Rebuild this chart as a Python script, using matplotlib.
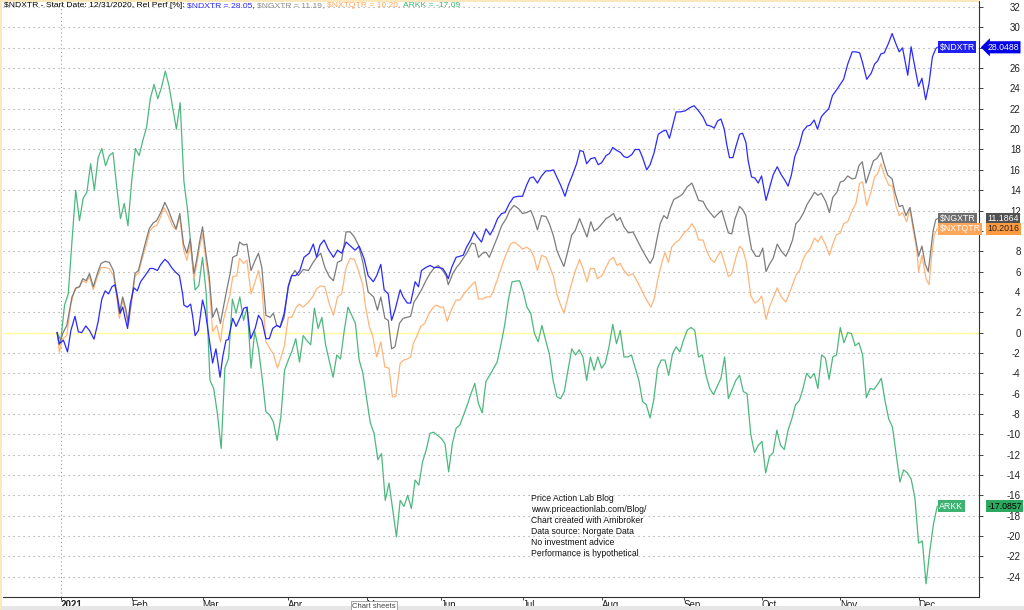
import matplotlib.pyplot as plt
from matplotlib.patches import Rectangle

plt.rcParams['font.family'] = ['Liberation Sans', 'DejaVu Sans']

# relative performance [%] vs 12/31/2020, x = trading session index (0 = 12/31/2020)
NDXTR = [(0, 0), (0.6, -1.1), (1.7, -0.75), (2.8, -1.9), (3.7, 0.2), (4.8, 1.6), (5.7, 0.07), (6.6, 0), (7.7, 0.65),
         (8.7, 0.2), (9.9, -0.65), (11, 1.05), (12, 3.3), (12.9, 4.1), (13.8, 3.8), (14.7, 4.5), (15.5, 4.7),
         (16.2, 3.5), (16.9, 1.9), (17.6, 2.5), (18.2, 1.5), (18.9, 0.4), (19.6, 2.8), (20.6, 4.4), (21.5, 4.1),
         (22.4, 5.0), (23.6, 5.6), (24.9, 6.3), (25.8, 6.3), (26.9, 6.1), (27.8, 6.7), (28.9, 7.2), (29.8, 6.9),
         (30.7, 6.4), (31.6, 6.0), (32.8, 5.6), (33.7, 3.7), (34.0, 2.7), (34.9, 2.5), (35.8, 2.8), (36.4, 1.5),
         (37, -0.3), (37.9, 0.2), (39, 3.2), (39.7, 2.2), (40.6, -0.1), (41.7, -3.0), (42.6, -1.6), (43.7, -4.4),
         (44.4, -2.4), (45.3, -0.75), (45.9, -0.7), (47.1, 1.4), (48, 0.6), (49.1, 1.5), (50.1, 2.4), (50.9, 2.5),
         (51.9, -0.6), (53.1, 0.4), (54, 1.7), (54.9, 1.2), (56, -0.6), (56.9, -0.6), (57.8, 0.4), (58.9, 0.7),
         (59.8, 0.55), (60.9, 1.9), (62, 4.5), (62.9, 5.6), (64, 5.6), (65.1, 6.1), (66.2, 7.4), (67.6, 7.8),
         (68.7, 8.7), (69.6, 7.4), (70.5, 8.6), (71.6, 9.1), (72.7, 8.2), (74.1, 7.4), (75.2, 8.1), (76.3, 7.8),
         (77.5, 8.9), (78.7, 8.5), (79.9, 8.1), (81, 8.5), (82.3, 7.3), (83.4, 5.6), (84.8, 5.0), (85.7, 5.6),
         (86.8, 6.7), (87.7, 4.2), (88.8, 3.8), (89.7, 1.2), (90.6, 2.2), (92, 4.2), (92.8, 3.5), (93.9, 2.9),
         (94.8, 2.9), (96, 5.0), (96.9, 4.5), (97.7, 6.1), (98.9, 6.4), (100, 6.6), (101, 6.4), (102.2, 6.4),
         (103.4, 6.3), (104.3, 5.8), (104.9, 5.3), (105.8, 6.4), (107, 7.4), (108, 7.5), (108.9, 7.6), (109.8, 8.4),
         (110.9, 9.1), (111.8, 9.9), (112.7, 9.4), (113.8, 8.9), (115, 10.2), (116.1, 9.6), (117, 10.2),
         (118.1, 11.2), (119.2, 11.7), (120.1, 11.8), (121.3, 12.7), (122.4, 13.3), (123.7, 13.4), (124.8, 13.4),
         (125.9, 14.5), (126.8, 15.2), (127.7, 15.3), (128.8, 14.7), (129.9, 15.4), (131.1, 15.9), (132.2, 15.9),
         (133.1, 16.0), (134.1, 15.2), (135, 14.5), (136.2, 13.4), (137.1, 14.5), (138.2, 15.5), (139.3, 16.6),
         (140.2, 17.9), (141.1, 17.8), (142, 16.6), (143.1, 17.1), (144.2, 17.2), (145.1, 16.5), (146, 16.7),
         (147.2, 17.4), (148.1, 17.6), (149, 18.2), (150.1, 17.9), (151.1, 17.7), (152, 17.3), (152.9, 17.2),
         (154.1, 17.5), (155, 18.0), (156.1, 18.0), (157, 17.2), (158.1, 16.0), (159, 16.5), (160.1, 17.7),
         (161.2, 19.5), (162.4, 19.8), (163.3, 19.9), (164.2, 19.1), (165.1, 20.4), (166, 21.7), (167.2, 21.7),
         (168.4, 21.8), (169.6, 22.1), (170.8, 22.3), (172, 21.8), (173.2, 21.2), (174.2, 20.4), (175.3, 20.3),
         (176.2, 20.1), (177.1, 20.8), (178, 21.0), (178.9, 20.0), (179.6, 18.4), (180.3, 17.2), (181.2, 17.2),
         (182.1, 18.4), (183, 19.5), (183.8, 19.6), (184.7, 18.7), (185.3, 16.9), (186.2, 15.3), (187.1, 15.2),
         (188, 14.7), (188.9, 15.4), (189.4, 14.4), (190.1, 13.0), (191, 14.2), (192, 15.5), (193.1, 16.3),
         (194.2, 15.5), (195.1, 15.0), (196, 14.4), (196.9, 15.5), (197.8, 17.3), (199, 18.4), (200, 19.8),
         (201.1, 20.3), (202, 20.4), (203, 20.9), (203.9, 20.0), (204.9, 21.2), (205.8, 21.6), (206.9, 22.0),
         (207.9, 23.3), (208.9, 23.8), (210, 24.4), (210.9, 24.9), (212, 26.4), (213.2, 27.6), (214.2, 27.6),
         (215.2, 27.5), (216, 26.5), (217.1, 24.9), (218.3, 25.5), (219.2, 26.4), (220, 26.7), (220.9, 27.4),
         (221.8, 27.5), (223, 28.5), (223.9, 29.4), (224.8, 28.5), (225.8, 27.6), (226.7, 28.0), (228.1, 25.3),
         (229, 28.1), (229.8, 26.5), (231, 24.2), (231.9, 25.0), (232.9, 22.9), (233.8, 24.5), (234.7, 27.1),
         (235.6, 27.9), (236, 28.0488)]

NGXTR = [(0, 0), (0.6, -1.2), (1.5, -0.1), (2.6, 0.7), (4, 3.5), (5.1, 4.4), (6, 4.5), (6.9, 5.3), (7.8, 5.1),
         (8.7, 5.8), (9.7, 4.5), (10.8, 5.8), (11.8, 6.8), (12.9, 7.0), (14, 6.9), (15.1, 6.1), (16, 3.8),
         (16.7, 1.9), (17.6, 3.5), (18.5, 2.2), (19.1, 0.9), (19.8, 2.8), (20.9, 5.8), (21.8, 6.1), (22.7, 7.4),
         (23.6, 8.7), (24.7, 10.2), (25.8, 10.8), (26.7, 11.0), (27.8, 11.8), (28.9, 12.8), (29.8, 12.1),
         (30.9, 11.0), (31.9, 10.2), (32.9, 11.7), (33.9, 8.7), (34.8, 7.8), (35.7, 9.2), (36.7, 5.8), (37.4, 7.1),
         (38.2, 8.9), (39, 10.4), (39.9, 7.8), (40.8, 5.5), (41.7, 1.5), (42.8, 2.4), (43.8, 0.9), (44.6, 2.5),
         (45.5, 4.2), (46.4, 5.8), (47.1, 7.4), (48.2, 7.6), (48.9, 8.9), (50, 8.6), (50.9, 8.7), (52, 6.1),
         (53.1, 7.1), (54, 7.8), (54.9, 6.4), (56, 1.7), (57.1, 1.5), (58, 1.9), (58.9, 0.7), (59.8, 0.5),
         (60.9, 1.5), (62, 4.6), (62.9, 5.6), (63.8, 6.1), (64.7, 5.6), (66, 6.2), (67.4, 6.1), (68.5, 6.8),
         (69.6, 7.4), (70.7, 7.8), (71.8, 6.4), (73, 5.5), (74.1, 5.1), (75.2, 6.9), (76.3, 7.1), (77.5, 9.9),
         (78.6, 9.9), (79.7, 9.4), (80.8, 8.6), (82, 6.9), (83.4, 4.0), (84.9, 3.5), (85.9, 2.2), (86.8, 3.5),
         (87.9, 1.4), (88.8, 1.2), (89.7, -1.6), (90.6, -1.4), (91.8, 0.9), (92.8, 1.4), (93.9, 1.5), (94.8, 1.6),
         (95.7, 3.0), (96.6, 3.5), (97.7, 4.2), (98.9, 5.1), (100, 5.8), (101, 6.3), (102.2, 6.6), (103.4, 6.1),
         (104.3, 5.6), (104.9, 4.7), (106.1, 5.8), (107.1, 6.4), (108, 6.8), (109.1, 7.4), (110, 7.9), (111.2, 8.8),
         (112.1, 8.7), (113, 7.4), (114.1, 7.8), (115, 7.9), (115.9, 7.4), (117, 8.4), (118.1, 9.4), (119.2, 10.5),
         (120.4, 11.2), (121.4, 12.0), (122.5, 12.5), (123.7, 12.2), (124.8, 11.7), (125.9, 11.8), (127, 12.0),
         (127.9, 11.2), (128.8, 10.1), (129.9, 11.5), (131.1, 11.4), (132, 10.7), (133.1, 9.5), (134, 8.1),
         (134.9, 7.3), (135.9, 6.5), (136.8, 7.8), (138, 9.6), (138.9, 10.0), (140.1, 11.2), (141, 10.4),
         (142.1, 9.4), (143.1, 10.9), (144, 10.0), (144.9, 10.2), (146.1, 10.7), (147.2, 11.2), (148.1, 11.4),
         (149.2, 11.7), (150.1, 11.0), (151, 11.3), (152, 10.4), (153.2, 9.8), (154.4, 9.9), (155.4, 9.2),
         (156.5, 8.4), (157.7, 7.6), (159, 6.8), (159.9, 7.4), (160.8, 9.1), (161.7, 10.7), (162.7, 11.5),
         (163.6, 11.2), (164.5, 12.3), (165.4, 13.1), (166.5, 13.3), (167.7, 13.6), (168.9, 14.3), (170.2, 14.7),
         (171.1, 13.9), (172, 13.0), (173.2, 12.9), (174.2, 12.2), (175.3, 11.7), (176.2, 11.3), (177.3, 11.7),
         (178.2, 12.0), (179.1, 10.9), (180, 9.8), (180.9, 9.7), (181.8, 11.2), (183, 12.4), (183.8, 12.1),
         (184.7, 11.5), (185.3, 10.1), (186.2, 8.2), (187.4, 7.5), (188.3, 7.5), (189.2, 8.3), (190.1, 6.0),
         (191, 6.7), (192, 7.3), (193.1, 8.7), (194.2, 8.0), (195.4, 7.5), (196.3, 8.2), (197.2, 9.1),
         (198.1, 10.7), (199.1, 11.1), (200.2, 11.8), (201.1, 12.6), (202.3, 13.3), (203.1, 13.8), (204, 13.5),
         (204.9, 13.7), (206.1, 12.9), (207.1, 11.8), (208, 13.3), (209.1, 13.8), (210, 14.8), (210.9, 14.9),
         (212, 15.4), (213.2, 15.1), (214.1, 15.2), (215, 16.4), (215.9, 16.8), (216.9, 14.7), (218, 15.9),
         (218.9, 16.9), (219.8, 17.1), (220.9, 17.7), (221.8, 16.5), (222.7, 15.5), (223.9, 15.1), (224.8, 13.6),
         (225.8, 12.4), (226.7, 12.5), (227.6, 11.5), (228.7, 12.3), (229.6, 10.4), (230.3, 8.9), (231, 7.5),
         (231.9, 8.5), (232.8, 6.7), (233.6, 6.0), (234.3, 8.2), (234.9, 10.0), (235.6, 11.1), (236, 11.1864)]

NXTQTR = [(0, 0), (0.6, -1.9), (1.5, -0.6), (2.6, -0.3), (3.7, 2.8), (4.8, 4.3), (6, 4.5), (6.9, 5.1), (7.8, 4.9),
          (8.7, 5.5), (9.7, 4.2), (10.8, 5.5), (11.8, 6.4), (12.9, 6.4), (14, 6.3), (15.1, 5.6), (16, 3.5),
          (16.7, 1.4), (17.6, 3.2), (18.5, 1.9), (19.1, 0.7), (19.8, 2.5), (20.9, 5.6), (21.8, 5.8), (22.7, 7.1),
          (23.9, 8.6), (24.9, 10.0), (25.8, 10.4), (26.7, 10.5), (27.8, 11.4), (28.6, 12.3), (29.8, 11.5),
          (30.9, 10.5), (31.9, 10.1), (32.9, 11.4), (33.9, 8.2), (34.8, 7.1), (35.7, 8.7), (36.7, 5.3), (37.4, 6.6),
          (38.2, 8.4), (39, 9.7), (39.9, 7.1), (40.8, 4.8), (41.7, 0.1), (42.8, 0.7), (43.8, -0.9), (44.6, 1.2),
          (45.5, 2.5), (46.4, 3.8), (47.1, 5.5), (48.2, 5.6), (48.9, 7.3), (50, 6.8), (50.9, 7.1), (52, 3.8),
          (53.1, 5.0), (54, 6.1), (54.9, 4.5), (56, -0.9), (57.1, -1.6), (58, -2.1), (59.1, -3.5), (59.8, -2.7),
          (60.9, -1.4), (62, 1.5), (62.9, 1.5), (64, 2.4), (64.9, 2.8), (66, 2.5), (67.4, 3.0), (68.5, 3.5),
          (69.6, 4.3), (70.7, 4.6), (71.8, 4.5), (73, 2.8), (74.1, 1.7), (75.2, 3.5), (76.3, 3.8), (77.5, 6.4),
          (78.6, 7.3), (79.7, 7.2), (80.8, 6.1), (82, 4.6), (82.6, 2.8), (83.7, 0.6), (84.6, -0.3), (85.7, -2.4),
          (86.8, -0.9), (87.9, -3.4), (89, -3.5), (89.9, -6.3), (90.8, -6.3), (92, -3.0), (93, -2.7), (93.9, -2.6),
          (94.8, -2.4), (95.5, -1.1), (96.4, -0.4), (97.5, 0.6), (98.6, 0.9), (99.5, 1.7), (100.7, 2.4),
          (101.6, 2.7), (102.7, 2.5), (103.6, 2.5), (104.6, 1.1), (105.8, 2.3), (107, 3.2), (108, 3.2),
          (109.1, 3.8), (110, 4.2), (111.2, 4.7), (112.1, 5.0), (113, 3.3), (114.1, 3.3), (115.2, 3.5),
          (116.2, 3.5), (117.1, 4.2), (118.3, 5.5), (119.5, 6.8), (120.5, 7.8), (121.6, 8.7), (122.5, 8.9),
          (123.7, 8.6), (124.8, 8.2), (125.9, 8.4), (127, 8.1), (127.9, 7.4), (128.8, 6.1), (129.9, 7.6),
          (131.1, 7.4), (132.2, 6.4), (133.1, 5.5), (134, 3.8), (134.9, 2.8), (135.9, 1.9), (136.8, 3.2),
          (137.7, 4.5), (138.9, 6.0), (140.1, 7.2), (141, 6.3), (142.1, 5.0), (143, 6.3), (144, 6.3), (144.9, 5.3),
          (146.1, 5.6), (147.2, 6.4), (148.1, 7.1), (149.2, 7.4), (150.1, 6.6), (151, 6.8), (152, 6.1),
          (153.2, 5.6), (154.4, 5.8), (155.6, 5.0), (156.7, 4.2), (157.9, 3.3), (159.2, 2.5), (160.1, 3.3),
          (161, 5.1), (162.1, 6.8), (163, 7.9), (163.9, 6.9), (164.8, 8.4), (165.7, 8.8), (166.8, 9.1),
          (167.9, 9.7), (169.3, 10.2), (170.2, 10.7), (171.1, 10.2), (172, 9.1), (173.2, 9.1), (174.2, 8.0),
          (175.3, 7.2), (176.2, 6.9), (177.1, 7.5), (178, 8.0), (178.9, 6.9), (180, 5.5), (180.9, 5.8),
          (182.1, 7.5), (183, 8.5), (183.8, 8.2), (184.7, 7.1), (185.3, 5.6), (186, 3.6), (187.1, 2.9), (188, 3.1),
          (188.9, 3.6), (189.5, 2.5), (190.1, 1.3), (191, 2.5), (192, 3.4), (193.1, 4.4), (194.2, 3.5),
          (195.4, 3.0), (196.3, 3.8), (197.2, 4.7), (198.2, 5.7), (199.1, 6.1), (200, 7.2), (200.9, 7.8),
          (202, 8.3), (203.1, 9.3), (204, 8.9), (204.9, 9.5), (206.1, 8.6), (207.1, 7.6), (208, 8.7), (208.9, 9.6),
          (210, 9.8), (210.9, 10.7), (212, 10.9), (213.2, 12.0), (214.2, 12.7), (215.2, 14.7), (216, 14.8),
          (217.1, 12.5), (218.3, 13.9), (219.2, 15.3), (220, 15.6), (220.9, 16.6), (221.8, 15.5), (223, 14.5),
          (224, 14.4), (224.9, 12.5), (225.8, 11.5), (226.7, 11.8), (227.8, 10.9), (228.7, 12.2), (229.6, 10.0),
          (230.5, 8.2), (231, 6.0), (231.9, 7.6), (233, 5.3), (233.8, 4.7), (234.5, 7.5), (235.2, 9.6),
          (236, 10.2016)]

ARKK = [(0, 0), (1, -0.75), (2, 2.7), (3, 3.8), (4, 9.0), (5, 14.0), (6, 11.0), (7, 13.2), (8, 13.8), (9, 16.6),
        (10, 14.0), (11, 17.2), (12, 18.1), (13, 16.4), (14, 17.4), (15, 17.7), (16, 14.3), (17, 11.2), (18, 12.7),
        (19, 10.5), (20, 14.9), (21, 18.1), (22, 17.4), (23, 18.9), (24, 20.2), (25, 23.0), (26, 24.4), (27, 23.0),
        (28, 24.1), (29, 25.7), (30, 24.3), (31, 22.1), (32, 20.0), (33, 22.6), (34, 14.9), (35, 12.0), (36, 8.1),
        (37, 4.2), (38, 4.6), (39, 7.4), (40, 3.8), (41, -4.7), (42, -5.5), (43, -8.0), (44, -11.4), (45, -3.5),
        (46, -2.5), (47, 3.3), (48, 1.9), (49, 3.5), (50, 1.2), (51, 2.5), (52, -3.5), (53, 0.1), (54, -1.6),
        (55, -4.5), (56, -7.8), (57, -8.1), (58, -8.8), (59, -10.6), (60, -8.3), (61, -3.7), (62, -2.7),
        (63, -1.8), (64, -0.6), (65, -2.9), (66, -0.3), (67, -0.8), (68, -1.2), (69, 2.4), (70, 0.4), (71, 1.5),
        (72, -1.2), (73, -2.8), (74, -4.4), (75, -2.2), (76, -2.6), (77, 0.2), (78, 2.5), (79, 1.7), (80, 0.9),
        (81, -2.7), (82, -4.0), (83, -6.5), (84, -8.9), (85, -9.9), (86, -12.5), (87, -11.9), (88, -16.5),
        (89, -14.8), (90, -17.4), (91, -20.1), (92, -16.5), (93, -17.1), (94, -16.0), (95, -17.3), (96, -14.5),
        (97, -15.0), (98, -12.7), (99, -11.5), (100, -9.9), (101, -9.8), (103, -10.4), (104, -10.9),
        (105, -13.7), (106, -10.9), (107, -9.4), (108, -9.1), (110, -7.1), (111, -6.0), (112, -5.0), (113, -7.0),
        (114, -7.9), (115, -4.8), (116, -4.2), (118, -2.9), (119, -1.2), (120, 0.7), (121, 3.2), (122, 5.0),
        (124, 5.1), (125, 4.0), (126, 2.5), (127, 1.9), (128, -0.1), (129, -0.9), (130, 0.7), (131, -0.75),
        (132, -2.1), (133, -4.7), (134, -6.3), (135, -6.5), (136, -5.8), (137, -3.7), (138, -1.6), (139, -2.2),
        (140, -1.7), (141, -2.4), (142, -4.7), (143, -2.4), (144, -3.7), (145, -2.4), (146, -3.5), (147, -3.0),
        (148, -1.4), (149, 0.8), (150, -1.1), (151, 0.2), (152, -2.4), (153, -2.4), (154, -2.2), (156, -4.7),
        (157, -6.8), (158, -7.1), (159, -8.4), (160, -6.6), (161, -3.5), (162, -2.7), (163, -2.7), (164, -4.2),
        (165, -2.1), (166, -1.4), (167, -1.9), (168, -0.7), (169, 0.25), (170, 0.5), (171, 0.2), (172, -2.4),
        (173, -2.2), (174, -4.2), (175, -5.5), (176, -6.1), (177, -5.3), (178, -4.5), (179, -2.4), (180, -6.5),
        (181, -5.6), (182, -4.7), (183, -4.2), (184, -5.8), (185, -6.0), (186, -10.0), (187, -11.8),
        (188, -11.1), (189, -10.7), (190, -13.8), (191, -12.2), (192, -11.8), (193, -9.6), (194, -11.1),
        (195, -11.5), (196, -9.6), (197, -8.5), (198, -7.1), (199, -6.7), (200, -5.5), (201, -4.0), (202, -4.5),
        (203, -4.0), (204, -5.5), (205, -2.2), (206, -2.5), (207, -4.6), (208, -2.4), (209, -2.2), (210, 0.5),
        (211, -1.0), (212, 0.0), (213, -0.1), (214, -1.3), (215, -1.0), (216, -2.2), (217, -6.4), (218, -5.5),
        (219, -5.6), (220, -5.1), (221, -4.5), (222, -6.7), (223, -8.5), (224, -9.3), (225, -12.0), (226, -14.7),
        (227, -13.5), (228, -13.8), (229, -14.4), (230, -16.2), (231, -20.7), (232, -20.5), (233, -24.7),
        (234, -21.5), (235, -18.8), (236, -17.0857)]

NAMES = ['$NDXTR', '$NGXTR', '$NXTQTR', 'ARKK']
SERIES = [NDXTR, NGXTR, NXTQTR, ARKK]
LINE_COLORS = ['#2a2aff', '#7c7c7c', '#ffb57a', '#4cb87e']
HEADER_COLORS = ['#2a2aff', '#8c8c8c', '#ffa45c', '#3cb371']
TAG_COLORS = ['#2020f0', '#6e6e6e', '#ffa65a', '#3cb371']
VALUE_BOX = ['#0000e8', '#505050', '#ff9a42', '#2ea860']
VALUE_TEXT = ['white', 'white', '#222222', 'black']

MONTH_DAYS = [1, 20, 39, 62, 83, 103, 125, 146, 168, 189, 210, 231]
MONTH_LABELS = ['2021', 'Feb', 'Mar', 'Apr', 'May', 'Jun', 'Jul', 'Aug', 'Sep', 'Oct', 'Nov', 'Dec']
Y_TICKS = list(range(-24, 33, 2))

NOTES = ['Price Action Lab Blog', 'www.priceactionlab.com/Blog/', 'Chart created with Amibroker',
         'Data source: Norgate Data', 'No investment advice', 'Performance is hypothetical']


def esc(s):
    return s.replace('$', r'\$')


fig = plt.figure(figsize=(10.24, 6.10), dpi=100, facecolor='white')
ax = fig.add_axes([3 / 1024, 13 / 610, 976 / 1024, 596 / 610])
ax.set_xlim(-14.5, 247.2)
ax.set_ylim(-26.0, 32.6)

# grid and zero line
for v in Y_TICKS:
    ax.axhline(v, color='#9a9a9a', lw=0.8, ls=(0, (1, 3.5)), zorder=0)
ax.axhline(0, color='#ffff99', lw=1.0, zorder=0.5)
ax.axvline(MONTH_DAYS[0], color='#9a9a9a', lw=0.8, ls=(0, (1, 2.5)), zorder=0)

# lines, drawn so the blue one ends on top
for i in [3, 2, 1, 0]:
    x, y = zip(*SERIES[i])
    ax.plot(x, y, color=LINE_COLORS[i], lw=0.9, zorder=2 + (3 - i))

# tags at the line ends and value boxes on the price axis
for i, name in enumerate(NAMES):
    x_end, y_end = SERIES[i][-1]
    ax.annotate(esc(name), xy=(x_end + 0.6, y_end), ha='left', va='center', fontsize=6.3, color='white',
                bbox=dict(boxstyle='square,pad=0.18', fc=TAG_COLORS[i], ec='none'), zorder=10)
    style = 'larrow,pad=0.18' if i == 0 else 'square,pad=0.18'
    ax.annotate(f'{y_end:.4f}', xy=(1.0085, y_end), xycoords=('axes fraction', 'data'), ha='left',
                va='center', fontsize=6.3, color=VALUE_TEXT[i], annotation_clip=False,
                bbox=dict(boxstyle=style, fc=VALUE_BOX[i], ec='none'), zorder=10)

# multi-coloured header
t = ax.text(0.001, 0.998, esc('$NDXTR - Start Date: 12/31/2020, Rel Perf [%]: '), transform=ax.transAxes,
            ha='left', va='top', fontsize=6.1, color='black')
for i, name in enumerate(NAMES):
    sep = ', ' if i < len(NAMES) - 1 else ''
    t = ax.annotate(esc(f'{name} = {SERIES[i][-1][1]:.2f}{sep}'), xy=(1, 0), xycoords=t,
                    ha='left', va='bottom', fontsize=6.1, color=HEADER_COLORS[i])

ax.text(0.541, 0.173, '\n'.join(NOTES), transform=ax.transAxes, ha='left', va='top', fontsize=6.2,
        linespacing=1.3, color='#111111')

# axes styling
for side in ['top', 'left']:
    ax.spines[side].set_visible(False)
ax.spines['right'].set_color('#333333')
ax.spines['bottom'].set_color('#333333')
ax.yaxis.tick_right()
ax.set_yticks(Y_TICKS)
ax.set_yticklabels([str(v) for v in Y_TICKS], ha='right')
ax.tick_params(axis='y', length=3, width=0.6, pad=27, labelsize=7, colors='#222222')
ax.set_xticks(MONTH_DAYS)
ax.set_xticklabels(MONTH_LABELS, ha='left')
ax.tick_params(axis='x', length=2.5, width=0.6, pad=0, labelsize=7, colors='#222222')
ax.get_xticklabels()[0].set_fontweight('bold')

# window chrome: thin border and sheet tab strip
fig.patches.append(Rectangle((0, 0), 1, 4 / 610, transform=fig.transFigure, fc='#e6e6e6', ec='none'))
fig.patches.append(Rectangle((0, 0), 2 / 1024, 1, transform=fig.transFigure, fc='#fbe9bd', ec='none'))
fig.patches.append(Rectangle((0, 608 / 610), 979 / 1024, 2 / 610, transform=fig.transFigure,
                             fc='#fbe9bd', ec='none'))
fig.text(374 / 1024, 0.5 / 610, 'Chart sheets', fontsize=5.5, ha='center', va='bottom', color='#444444',
         bbox=dict(boxstyle='square,pad=0.15', fc='white', ec='#999999', lw=0.6))

fig.savefig('out.png', dpi=100, facecolor='white')
